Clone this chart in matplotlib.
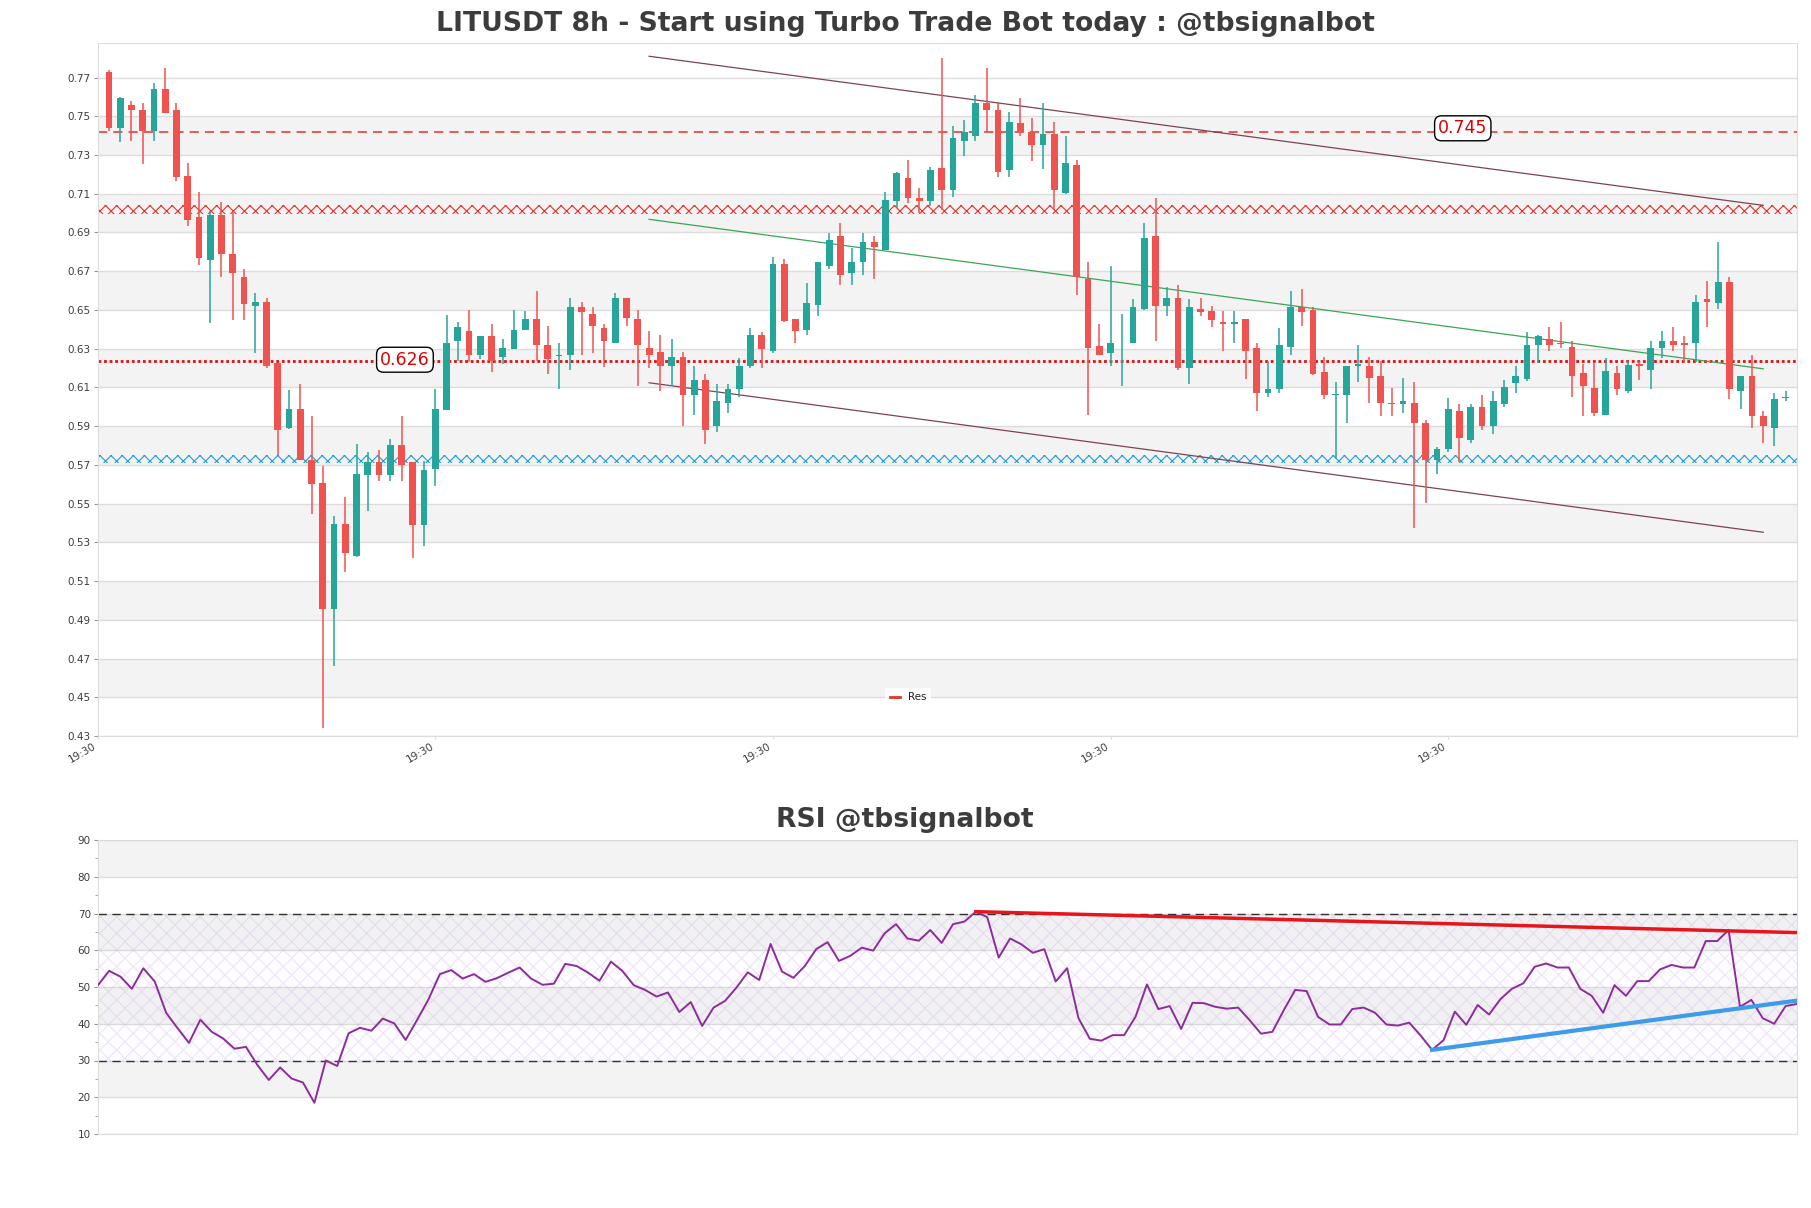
import matplotlib
matplotlib.use("Agg")
import matplotlib.pyplot as plt
import numpy as np

# ---------------- data ----------------
opens = [0.7727,0.7438,0.7557,0.7532,0.7426,0.7640,0.7532,0.7191,0.6982,0.6757,
         0.6991,0.6791,0.6672,0.6520,0.6543,0.6226,0.5892,0.5991,0.5724,0.5605,
         0.4954,0.5395,0.5232,0.5648,0.5713,0.5648,0.5802,0.5713,0.5391,0.5681,
         0.5984,0.6341,0.6393,0.6267,0.6364,0.6255,0.6297,0.6398,0.6451,0.6320,
         0.6260,0.6267,0.6513,0.6481,0.6405,0.6329,0.6564,0.6451,0.6306,0.6281,
         0.6212,0.6255,0.6062,0.6140,0.5901,0.6021,0.6092,0.6212,0.6373,0.6288,
         0.6736,0.6451,0.6398,0.6527,0.6729,0.6883,0.6690,0.6750,0.6853,0.6807,
         0.7065,0.7180,0.7079,0.7065,0.7231,0.7118,0.7373,0.7396,0.7571,0.7532,
         0.7224,0.7463,0.7417,0.7350,0.7408,0.7104,0.7249,0.6662,0.6313,0.6276,
         0.6327,0.6327,0.6504,0.6883,0.6520,0.6564,0.6200,0.6504,0.6492,0.6440,
         0.6430,0.6451,0.6302,0.6071,0.6092,0.6308,0.6513,0.6501,0.6180,0.6062,
         0.6062,0.6212,0.6212,0.6159,0.6021,0.6012,0.6021,0.5915,0.5724,0.5782,
         0.5979,0.5828,0.6000,0.5901,0.6012,0.6122,0.6145,0.6320,0.6352,0.6331,
         0.6311,0.6175,0.6099,0.5959,0.6175,0.6083,0.6221,0.6191,0.6301,0.6341,
         0.6329,0.6329,0.6554,0.6538,0.6642,0.6083,0.6159,0.5950,0.5892,0.6044]
highs = [0.7737,0.7599,0.7578,0.7569,0.7672,0.7748,0.7569,0.7258,0.7111,0.7010,
         0.7058,0.7010,0.6711,0.6589,0.6564,0.6226,0.6085,0.6120,0.5950,0.5692,
         0.5437,0.5533,0.5809,0.5766,0.5775,0.5832,0.5950,0.5713,0.5719,0.6092,
         0.6472,0.6439,0.6502,0.6364,0.6430,0.6352,0.6502,0.6492,0.6598,0.6419,
         0.6329,0.6564,0.6543,0.6513,0.6430,0.6589,0.6564,0.6502,0.6393,0.6373,
         0.6352,0.6281,0.6212,0.6170,0.6117,0.6117,0.6251,0.6405,0.6384,0.6771,
         0.6761,0.6451,0.6640,0.6750,0.6899,0.6950,0.6821,0.6895,0.6883,0.7111,
         0.7212,0.7272,0.7129,0.7237,0.7801,0.7449,0.7479,0.7608,0.7748,0.7576,
         0.7523,0.7592,0.7491,0.7569,0.7470,0.7396,0.7272,0.6750,0.6430,0.6725,
         0.6481,0.6554,0.6950,0.7079,0.6621,0.6628,0.6554,0.6564,0.6520,0.6492,
         0.6492,0.6451,0.6329,0.6237,0.6405,0.6600,0.6610,0.6513,0.6255,0.6129,
         0.6212,0.6320,0.6255,0.6237,0.6097,0.6150,0.6129,0.5933,0.5791,0.6046,
         0.6012,0.6012,0.6062,0.6083,0.6140,0.6212,0.6384,0.6373,0.6414,0.6440,
         0.6341,0.6221,0.6230,0.6251,0.6212,0.6237,0.6237,0.6341,0.6393,0.6414,
         0.6364,0.6577,0.6651,0.6853,0.6669,0.6159,0.6267,0.5979,0.6072,0.6081]
lows = [0.7426,0.7369,0.7373,0.7256,0.7371,0.7518,0.7166,0.6934,0.6734,0.6435,
        0.6669,0.6449,0.6449,0.6276,0.6200,0.5752,0.5883,0.5724,0.5446,0.4340,
        0.4662,0.5147,0.5223,0.5460,0.5616,0.5616,0.5616,0.5220,0.5282,0.5593,
        0.5984,0.6237,0.6232,0.6249,0.6180,0.6221,0.6297,0.6398,0.6237,0.6170,
        0.6092,0.6189,0.6267,0.6278,0.6206,0.6329,0.6419,0.6108,0.6200,0.6083,
        0.6108,0.5901,0.5959,0.5809,0.5869,0.5970,0.6053,0.6200,0.6200,0.6278,
        0.6437,0.6331,0.6373,0.6469,0.6713,0.6628,0.6628,0.6679,0.6658,0.6807,
        0.7024,0.7051,0.7001,0.7037,0.7017,0.7083,0.7295,0.7373,0.7417,0.7189,
        0.7189,0.7396,0.7267,0.7226,0.7017,0.7100,0.6577,0.5955,0.6267,0.6212,
        0.6108,0.6327,0.6499,0.6341,0.6469,0.6191,0.6117,0.6469,0.6410,0.6288,
        0.6327,0.6145,0.5979,0.6051,0.6071,0.6267,0.6419,0.6163,0.6042,0.5731,
        0.5915,0.6129,0.6021,0.5950,0.5950,0.5966,0.5372,0.5501,0.5651,0.5766,
        0.5713,0.5812,0.5880,0.5862,0.6000,0.6071,0.6134,0.6226,0.6288,0.6301,
        0.6051,0.5950,0.5950,0.5959,0.6062,0.6071,0.6138,0.6092,0.6251,0.6288,
        0.6230,0.6230,0.6414,0.6506,0.6042,0.5991,0.5892,0.5812,0.5798,0.6030]
closes = [0.7438,0.7594,0.7530,0.7426,0.7640,0.7518,0.7189,0.6966,0.6766,0.6991,
          0.6787,0.6690,0.6529,0.6543,0.6209,0.5880,0.5991,0.5724,0.5602,0.4954,
          0.5395,0.5243,0.5655,0.5713,0.5648,0.5802,0.5701,0.5391,0.5674,0.5991,
          0.6331,0.6414,0.6267,0.6364,0.6237,0.6301,0.6394,0.6451,0.6318,0.6246,
          0.6265,0.6513,0.6488,0.6419,0.6340,0.6564,0.6460,0.6320,0.6267,0.6212,
          0.6255,0.6062,0.6140,0.5880,0.6032,0.6092,0.6212,0.6373,0.6297,0.6736,
          0.6444,0.6393,0.6534,0.6750,0.6863,0.6679,0.6750,0.6853,0.6826,0.7070,
          0.7208,0.7077,0.7065,0.7221,0.7118,0.7387,0.7417,0.7571,0.7532,0.7212,
          0.7472,0.7417,0.7350,0.7408,0.7118,0.7258,0.6669,0.6301,0.6267,0.6331,
          0.6331,0.6513,0.6872,0.6520,0.6564,0.6200,0.6513,0.6490,0.6449,0.6430,
          0.6440,0.6288,0.6071,0.6092,0.6320,0.6513,0.6488,0.6170,0.6062,0.6067,
          0.6212,0.6221,0.6150,0.6021,0.6012,0.6030,0.5915,0.5724,0.5782,0.5991,
          0.5839,0.6000,0.5901,0.6030,0.6100,0.6159,0.6320,0.6364,0.6320,0.6322,
          0.6159,0.6108,0.5966,0.6184,0.6092,0.6216,0.6212,0.6301,0.6341,0.6320,
          0.6320,0.6543,0.6543,0.6642,0.6092,0.6159,0.5950,0.5901,0.6042,0.6053]

rsi = [50.4,54.4,52.8,49.5,55.1,51.5,43.0,38.8,34.8,41.1,
       37.8,36.0,33.2,33.7,28.8,24.7,28.1,25.1,24.0,18.5,
       30.0,28.5,37.4,38.9,38.1,41.4,40.1,35.6,41.0,46.6,
       53.5,54.6,52.3,53.5,51.4,52.4,53.9,55.3,52.3,50.6,
       50.9,56.3,55.7,53.9,51.7,56.9,54.4,50.5,49.2,47.4,
       48.5,43.2,45.9,39.4,44.4,46.2,49.8,54.0,51.9,61.7,
       54.2,52.5,55.7,60.3,62.2,57.1,58.5,60.7,59.9,64.6,
       67.1,63.2,62.6,65.5,62.0,67.1,67.8,70.5,69.0,58.0,
       63.2,61.6,59.3,60.3,51.5,55.1,41.5,35.9,35.4,36.9,
       36.9,41.9,50.7,44.0,44.8,38.6,45.7,45.6,44.6,44.1,
       44.4,41.0,37.3,37.8,43.7,49.2,48.9,41.9,39.8,39.8,
       44.0,44.4,43.0,39.8,39.5,40.3,36.8,32.9,35.5,43.3,
       39.7,45.1,42.5,46.7,49.5,51.0,55.5,56.4,55.3,55.3,
       49.5,47.6,43.0,50.5,47.6,51.6,51.6,54.8,56.0,55.3,
       55.3,62.5,62.5,65.5,44.6,46.5,41.5,40.0,44.8,45.4]

tick_labels = ["19:30", "19:30", "19:30", "19:30", "19:30"]
tick_index = [-1, 29, 59, 89, 119]

res_level = 0.742
res_label = "0.745"
sup_level = 0.6235
sup_label = "0.626"
red_zone = (0.6998, 0.7040)
blue_zone = (0.5710, 0.5752)

chan_x = [48, 147]
chan_upper = [0.781, 0.704]
chan_mid = [0.6968, 0.6196]
chan_lower = [0.6124, 0.5352]

rsi_res_x = [77, 149]
rsi_res_y = [70.5, 64.8]
rsi_sup_x = [117, 149]
rsi_sup_y = [32.9, 46.3]

# ---------------- figure ----------------
W, H = 1811, 1208
fig = plt.figure(figsize=(W / 100, H / 100), dpi=100)
plt.rcParams['font.family'] = ['DejaVu Sans']
plt.rcParams['hatch.linewidth'] = 0.8

L = 97.7 / W
R = 1797 / W
ax = fig.add_axes([L, 1 - 736 / H, R - L, (736 - 42.7) / H])
ax2 = fig.add_axes([L, 1 - 1134 / H, R - L, (1134 - 840) / H])

UP = '#26a69a'
DN = '#ef5350'
GRID = '#dcdcdc'
BAND = '#f3f3f3'
TXT = '#3c3c3c'

n = len(opens)
x = np.arange(n)

# main price axes
ymin, ymax = 0.43, 0.788
ax.set_xlim(-1, n)
ax.set_ylim(ymin, ymax)
yt = np.round(np.arange(0.43, 0.771, 0.02), 2)
for k, v in enumerate(yt[:-1]):
    if k % 2 == 1:
        ax.axhspan(v, v + 0.02, color=BAND, zorder=0, lw=0)
ax.set_yticks(yt)
ax.set_yticklabels([f"{v:.2f}" for v in yt], fontsize=7.5, color=TXT)
ax.yaxis.grid(True, color=GRID, lw=1, zorder=0.5)
ax.set_axisbelow(True)

# zones
ax.axhspan(red_zone[0], red_zone[1], facecolor='none', edgecolor='#e8302a',
           hatch='xxx', lw=0, zorder=1)
ax.axhspan(blue_zone[0], blue_zone[1], facecolor='none', edgecolor='#1f9ed6',
           hatch='xxx', lw=0, zorder=1)
ax.axhline(res_level, color='#e23030', lw=1.1, ls=(0, (6, 4)), zorder=1.5, label='Res')
ax.axhline(sup_level, color='#d11', lw=2.0, ls=(0, (1, 1)), zorder=1.5)

# channel
ax.plot(chan_x, chan_upper, color='#7d4352', lw=0.9, zorder=1.6)
ax.plot(chan_x, chan_lower, color='#7d4352', lw=0.9, zorder=1.6)
ax.plot(chan_x, chan_mid, color='#3aa655', lw=0.9, zorder=1.6)

# candles
bw = 0.6
for i in range(n):
    o, h, l, c = opens[i], highs[i], lows[i], closes[i]
    col = UP if c >= o else DN
    ax.vlines(x[i], l, h, color=col, lw=1.1, zorder=2)
    bottom = min(o, c)
    height = max(abs(c - o), 0.0004)
    ax.bar(x[i], height, bw, bottom=bottom, color=col, edgecolor=col, lw=0, zorder=3)

# level labels
bbox = dict(boxstyle='round,pad=0.2,rounding_size=0.4', fc='white', ec='black', lw=1)
ax.text(26.3, sup_level + 0.0008, sup_label, color='#e00000', fontsize=12.5,
        ha='center', va='center', bbox=bbox, zorder=5)
ax.text(120.3, res_level + 0.0018, res_label, color='#e00000', fontsize=12.5,
        ha='center', va='center', bbox=bbox, zorder=5)

ax.set_xticks(tick_index)
ax.set_xticklabels(tick_labels, rotation=30, ha='right', fontsize=7.5, color=TXT)
ax.tick_params(axis='x', length=2, color=GRID, pad=2)
ax.tick_params(axis='y', length=3, color='#999999', pad=2)
for s in ax.spines.values():
    s.set_color(GRID)

leg = ax.legend(loc='lower center', bbox_to_anchor=(0.477, 0.035), fontsize=7.5,
                frameon=True, handlelength=1.0, borderpad=0.4)
leg.get_frame().set_edgecolor('none')
leg.get_frame().set_alpha(0.9)
for t in leg.get_texts():
    t.set_color('#222222')
for hl in leg.get_lines():
    hl.set_linestyle('-')
    hl.set_linewidth(2)

fig.text(0.5, 1 - 24 / H, "LITUSDT 8h - Start using Turbo Trade Bot today : @tbsignalbot",
         ha='center', va='center', fontsize=19.2, weight='bold', color=TXT)

# RSI axes
ax2.set_xlim(0, n - 1)
ax2.set_ylim(10, 90)
for k, v in enumerate(range(10, 90, 10)):
    if k % 2 == 1:
        ax2.axhspan(v, v + 10, color=BAND, zorder=0, lw=0)
ax2.fill_between([0, n - 1], 30, 70, facecolor=(0.72, 0.55, 0.85, 0.025),
                 edgecolor=(0.72, 0.55, 0.85, 0.2), hatch='xx', lw=0, zorder=0.6)
ax2.set_yticks(range(10, 91, 10))
ax2.set_yticks(range(15, 90, 10), minor=True)
ax2.set_yticklabels([str(v) for v in range(10, 91, 10)], fontsize=7.5, color=TXT)
ax2.yaxis.grid(True, color=GRID, lw=1, zorder=0.5)
ax2.set_axisbelow(True)
ax2.axhline(70, color='#333333', lw=1.0, ls=(0, (6, 4)), zorder=1)
ax2.axhline(30, color='#333333', lw=1.0, ls=(0, (6, 4)), zorder=1)
ax2.plot(x, rsi, color='#8e2b9e', lw=1.4, zorder=3)
ax2.plot(rsi_res_x, rsi_res_y, color='#e8141c', lw=2.5, zorder=4)
ax2.plot(rsi_sup_x, rsi_sup_y, color='#3d9be9', lw=3, zorder=4)
ax2.set_xticks([])
ax2.tick_params(axis='y', which='both', length=3, color='#999999', pad=2)
ax2.tick_params(axis='y', which='minor', length=2)
for s in ax2.spines.values():
    s.set_color(GRID)

fig.text(905 / W, 1 - 820 / H, "RSI @tbsignalbot", ha='center', va='center',
         fontsize=19.2, weight='bold', color=TXT)

fig.savefig("out.png", dpi=100, facecolor='white')
